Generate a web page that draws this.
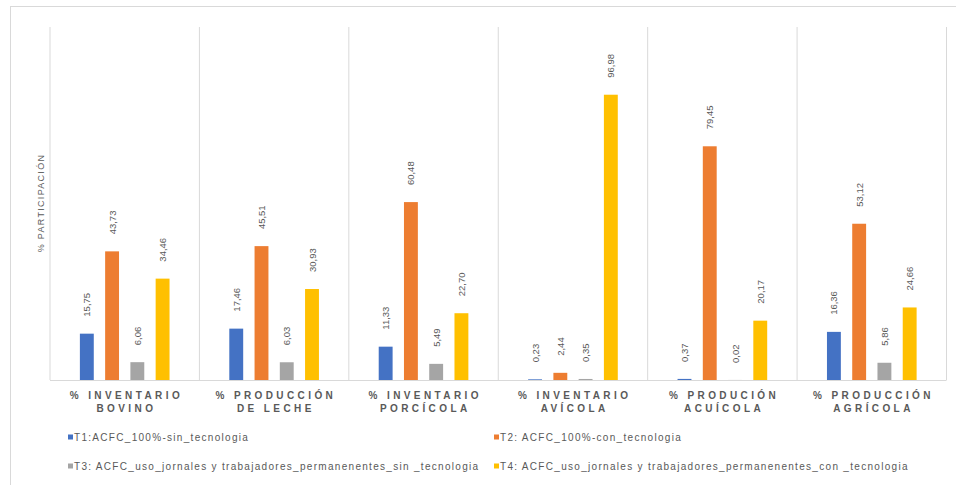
<!DOCTYPE html>
<html>
<head>
<meta charset="utf-8">
<script src="https://cdn.jsdelivr.net/npm/d3@7"></script>
<style>
  body { margin: 0; background: #fff; }
  svg { font-family: "Liberation Sans", Arial, sans-serif; }
</style>
</head>
<body>
<div id="chart"></div>
<script>
const width = 956;
const height = 485;

// categories (two lines each)
const categories = [
  ["% INVENTARIO", "BOVINO"],
  ["% PRODUCCIÓN", "DE LECHE"],
  ["% INVENTARIO", "PORCÍCOLA"],
  ["% INVENTARIO", "AVÍCOLA"],
  ["% PRODUCIÓN", "ACUÍCOLA"],
  ["% PRODUCCIÓN", "AGRÍCOLA"],
];
const seriesNames = [
  "T1:ACFC_100%-sin_tecnologia",
  "T2: ACFC_100%-con_tecnologia",
  "T3: ACFC_uso_jornales y trabajadores_permanenentes_sin _tecnologia",
  "T4: ACFC_uso_jornales y trabajadores_permanenentes_con _tecnologia",
];
const colors = ["#4472C4", "#ED7D31", "#A5A5A5", "#FFC000"];

const t1 = [15.75, 17.46, 11.33, 0.23, 0.37, 16.36];
const t2 = [43.73, 45.51, 60.48, 2.44, 79.45, 53.12];
const t3 = [6.06, 6.03, 5.49, 0.35, 0.02, 5.86];
const t4 = [34.46, 30.93, 22.70, 96.98, 20.17, 24.66];
const series = [t1, t2, t3, t4];

const margin = { top: 27, left: 50, right: 9.5, bottom: 105 };

const svg = d3
  .select("#chart")
  .append("svg")
  .attr("width", width)
  .attr("height", height);

// outer frame
svg
  .append("rect")
  .attr("x", 10.5)
  .attr("y", 6.5)
  .attr("width", 970)
  .attr("height", 500)
  .attr("fill", "none")
  .attr("stroke", "#d9d9d9");

const x = d3
  .scaleBand()
  .domain(d3.range(categories.length))
  .range([margin.left, width - margin.right]);

const xInner = d3
  .scaleBand()
  .domain(d3.range(series.length))
  .range([x.bandwidth() * 0.2, x.bandwidth() * 0.8])
  .paddingInner(0.45);

const y = d3
  .scaleLinear()
  .domain([0, 120])
  .range([height - margin.bottom, margin.top]);

const grid = "#d9d9d9";

// category separators
svg
  .append("g")
  .selectAll("line")
  .data(d3.range(categories.length + 1))
  .enter()
  .append("line")
  .attr("x1", (i) => (i < categories.length ? x(i) : x(i - 1) + x.bandwidth()))
  .attr("x2", (i) => (i < categories.length ? x(i) : x(i - 1) + x.bandwidth()))
  .attr("y1", y(120))
  .attr("y2", y(0))
  .attr("stroke", grid);

// baseline
svg
  .append("line")
  .attr("x1", x.range()[0])
  .attr("x2", x.range()[1])
  .attr("y1", y(0) + 0.5)
  .attr("y2", y(0) + 0.5)
  .attr("stroke", grid);

const fmt = (v) => d3.format(".2f")(v).replace(".", ",");

// bars + labels
series.forEach((vals, s) => {
  const g = svg.append("g");
  g.selectAll("rect")
    .data(vals)
    .enter()
    .append("rect")
    .attr("x", (d, i) => x(i) + xInner(s))
    .attr("width", xInner.bandwidth())
    .attr("y", (d) => y(d))
    .attr("height", (d) => y(0) - y(d))
    .attr("fill", colors[s]);

  g.selectAll("text")
    .data(vals)
    .enter()
    .append("text")
    .attr(
      "transform",
      (d, i) =>
        `translate(${x(i) + xInner(s) + xInner.bandwidth() / 2 + 3.5},${y(d) - 17}) rotate(-90)`
    )
    .attr("font-size", 9.5)
    .attr("fill", "#595959")
    .text((d) => fmt(d));
});

// category labels
const labels = svg
  .append("g")
  .selectAll("text")
  .data(categories)
  .enter()
  .append("text")
  .attr("text-anchor", "middle")
  .attr("font-size", 10)
  .attr("font-weight", "bold")
  .attr("letter-spacing", 3.4)
  .attr("fill", "#595959");

labels
  .selectAll("tspan")
  .data((d, i) => d.map((line) => ({ line, i })))
  .enter()
  .append("tspan")
  .attr("x", (d) => x(d.i) + x.bandwidth() / 2 + 1.7)
  .attr("y", (d, j) => y(0) + 19 + j * 13)
  .text((d) => d.line);

// y axis title
svg
  .append("text")
  .attr("transform", "translate(44,203) rotate(-90)")
  .attr("text-anchor", "middle")
  .attr("font-size", 9)
  .attr("letter-spacing", 1.3)
  .attr("fill", "#595959")
  .text("% PARTICIPACIÓN");

// legend
const legendPos = [
  [68, 437],
  [494, 437],
  [68, 466],
  [494, 466],
];
const legend = svg
  .append("g")
  .selectAll("g")
  .data(seriesNames)
  .enter()
  .append("g")
  .attr("transform", (d, i) => `translate(${legendPos[i][0]},${legendPos[i][1]})`);

legend
  .append("rect")
  .attr("x", 0)
  .attr("y", -2.5)
  .attr("width", 5)
  .attr("height", 5)
  .attr("fill", (d, i) => colors[i]);

legend
  .append("text")
  .attr("x", 6)
  .attr("y", 3.5)
  .attr("font-size", 10)
  .attr("letter-spacing", 1.3)
  .attr("fill", "#595959")
  .text((d) => d);
</script>
</body>
</html>
